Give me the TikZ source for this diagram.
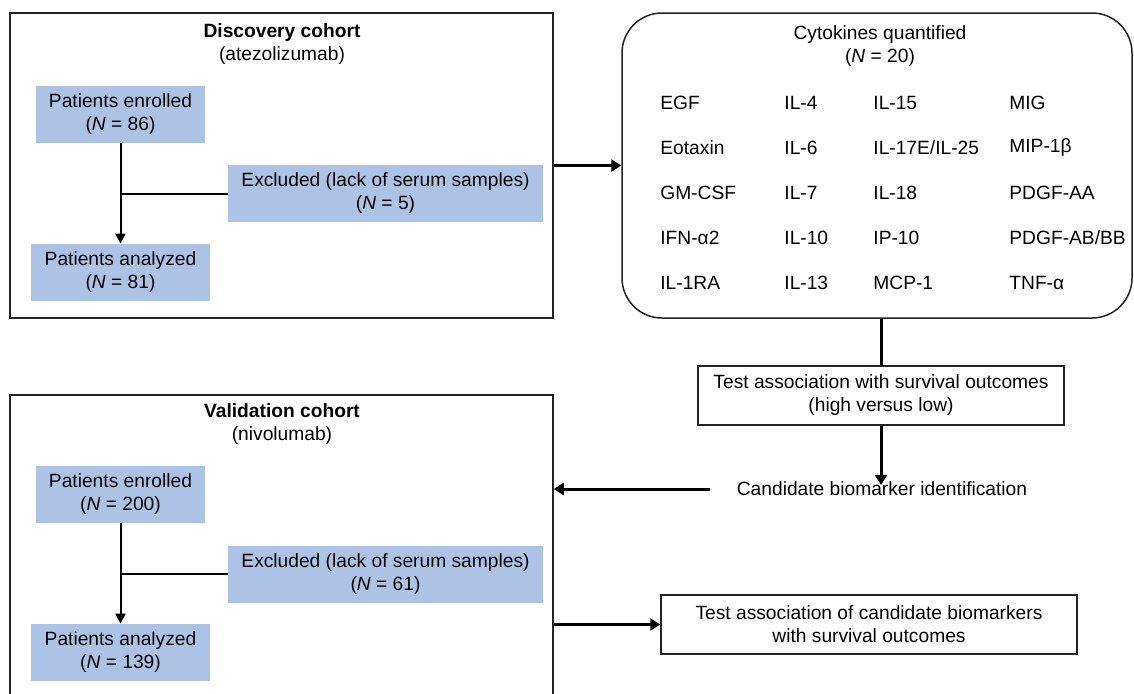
\documentclass[tikz,border=0pt]{standalone}
\usepackage{fontspec}
\setmainfont{Liberation Sans}
\usepackage{tikz}
\usetikzlibrary{
  arrows.meta,
  positioning,
  fit
}
\definecolor{cohortblue}{RGB}{173,195,229}
\definecolor{framegray}{RGB}{35,35,35}

\begin{document}
\begin{tikzpicture}[
  x=0.5pt, y=-0.5pt,
  every node/.style={font=\fontsize{9.6}{11.5}\selectfont},
  frame/.style={draw=framegray, line width=0.75pt, inner sep=0pt},
  patient/.style={
    rectangle, fill=cohortblue, align=center,
    minimum height=28.5pt, inner sep=0pt
  },
  testbox/.style={
    rectangle, draw=framegray, line width=0.75pt, align=center,
    minimum height=29.5pt, inner sep=0pt
  },
  cyto/.style={anchor=west, inner sep=0pt},
  flow/.style={draw=black, line width=1pt, -{Triangle[length=5pt,width=5pt]}},
  bigflow/.style={draw=black, line width=1.5pt, -{Triangle[length=5pt,width=6pt]}}
]
  \useasboundingbox (0,0) rectangle (1134,693);

  % discovery cohort
  \node[frame, fit={(10,13) (553,318)}] (disc) {};
  \node[align=center] (disctitle) at (282,44.5) {\textbf{Discovery cohort}\\(atezolizumab)};
  \node[patient, minimum width=84.5pt] (enrA) at (120.5,114.5) {Patients enrolled\\(\textit{N} = 86)};
  \node[patient, minimum width=157.5pt] (excA) at (385.5,193.5) {Excluded (lack of serum samples)\\(\textit{N} = 5)};
  \node[patient, minimum width=89.5pt] (anaA) at (120.5,272.5) {Patients analyzed\\(\textit{N} = 81)};
  \draw[flow] (enrA.south) -- (anaA.north);
  \draw[line width=1pt] (excA.west) -- (enrA.south |- excA.west);

  % validation cohort
  \node[frame, fit={(10,395) (553,720)}] (valid) {};
  \node[align=center] (validtitle) at (282,424.5) {\textbf{Validation cohort}\\(nivolumab)};
  \node[patient, minimum width=84.5pt] (enrB) at (120.5,494.5) {Patients enrolled\\(\textit{N} = 200)};
  \node[patient, minimum width=157.5pt] (excB) at (385.5,574) {Excluded (lack of serum samples)\\(\textit{N} = 61)};
  \node[patient, minimum width=89.5pt] (anaB) at (120.5,652.5) {Patients analyzed\\(\textit{N} = 139)};
  \draw[flow] (enrB.south) -- (anaB.north);
  \draw[line width=1pt] (excB.west) -- (enrB.south |- excB.west);

  % cytokines
  \node[frame, rounded corners=20pt, fit={(622,13) (1132,318)}] (cytbox) {};
  \node[align=center] (cyttitle) at (880,46) {Cytokines quantified\\(\textit{N} = 20)};
  \foreach \lbl [count=\r] in {EGF, Eotaxin, GM-CSF, IFN-α2, IL-1RA}
    \node[cyto] (colA-\r) at (660,{58+45*\r}) {\lbl};
  \foreach \lbl [count=\r] in {IL-4, IL-6, IL-7, IL-10, IL-13}
    \node[cyto] (colB-\r) at (784,{58+45*\r}) {\lbl};
  \foreach \lbl [count=\r] in {IL-15, IL-17E/IL-25, IL-18, IP-10, MCP-1}
    \node[cyto] (colC-\r) at (873,{58+45*\r}) {\lbl};
  \foreach \lbl [count=\r] in {MIG, MIP-1β, PDGF-AA, PDGF-AB/BB, TNF-α}
    \node[cyto] (colD-\r) at (1009,{58+45*\r}) {\lbl};

  % analysis steps
  \node[testbox, minimum width=183pt] (survtest) at (881,395.5) {Test association with survival outcomes\\(high versus low)};
  \node (candid) at (882,489) {Candidate biomarker identification};
  \node[testbox, minimum width=208pt] (candtest) at (869,624.5) {Test association of candidate biomarkers\\with survival outcomes};

  \draw[bigflow] (disc.east) -- (cytbox.west);
  \draw[line width=1.5pt] (survtest.north |- cytbox.south) -- (survtest.north);
  \draw[bigflow] (survtest.south) -- ([yshift=-5pt]survtest.south |- candid.north);
  \draw[bigflow] ([xshift=-10pt]candid.west) -- (valid.east |- candid.west);
  \draw[bigflow] (valid.east |- candtest.west) -- (candtest.west);
\end{tikzpicture}
\end{document}
